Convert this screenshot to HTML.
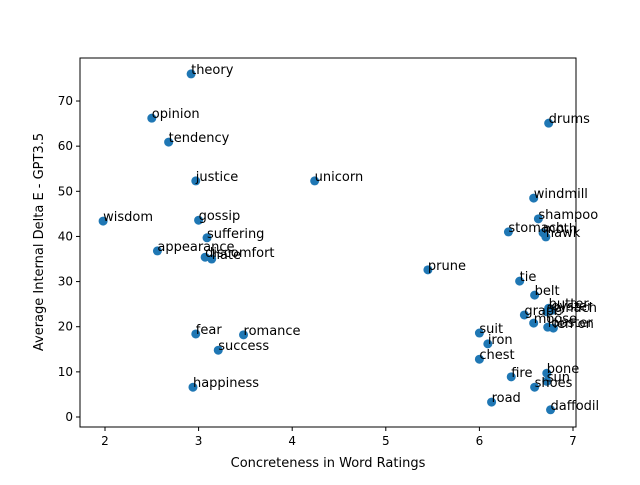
<!DOCTYPE html>
<html><head><meta charset="utf-8"><style>
body{margin:0;background:#fff;}
svg{font-family:"DejaVu Sans","Liberation Sans",sans-serif;}
</style></head><body>
<svg id="chart" width="640" height="480" viewBox="0 0 640 480" xmlns="http://www.w3.org/2000/svg">
<rect width="640" height="480" fill="#fff"/>
<g id="marks"></g>
<g id="labels"></g>
<rect x="80" y="58" width="496" height="369" fill="none" stroke="#000" stroke-width="1"/>
<g id="xticks"></g><g id="yticks"></g>
<text x="328" y="467" font-size="13" text-anchor="middle">Concreteness in Word Ratings</text>
<text transform="translate(43,242) rotate(-90)" font-size="13" text-anchor="middle">Average Internal Delta E - GPT3.5</text>
</svg>
<script>
const words = ["theory","opinion","tendency","justice","unicorn","wisdom","gossip","suffering","appearance","discomfort","hate","prune","fear","romance","success","happiness","drums","windmill","shampoo","stomach","moth","hawk","tie","belt","butter","oyster","spinach","grape","moose","lobster","lemon","suit","iron","chest","bone","sun","fire","shoes","road","daffodil"];
const concreteness = [2.92,2.50,2.68,2.97,4.24,1.98,3.00,3.09,2.56,3.07,3.14,5.45,2.97,3.48,3.21,2.94,6.74,6.58,6.63,6.31,6.68,6.71,6.43,6.59,6.74,6.77,6.72,6.48,6.58,6.73,6.79,6.00,6.09,6.00,6.72,6.72,6.34,6.59,6.13,6.76];
const deltaE = [76.0,66.2,60.9,52.3,52.3,43.4,43.6,39.7,36.8,35.4,35.0,32.6,18.4,18.2,14.8,6.6,65.1,48.5,43.9,41.0,40.8,39.9,30.1,27.0,24.1,23.6,23.3,22.6,20.8,19.9,19.7,18.6,16.2,12.8,9.7,7.9,8.9,6.6,3.3,1.6];
const xTicks = [2,3,4,5,6,7];
const yTicks = [0,10,20,30,40,50,60,70];
const X0=80,X1=576,Y0=427,Y1=58,xMin=1.733,xMax=7.032,yMin=-2.215,yMax=79.53;
const xs=v=>X0+(v-xMin)/(xMax-xMin)*(X1-X0);
const ys=v=>Y0-(v-yMin)/(yMax-yMin)*(Y0-Y1);
const NS="http://www.w3.org/2000/svg";
const marks=document.getElementById('marks'),labels=document.getElementById('labels');
words.forEach((w,i)=>{
  const c=document.createElementNS(NS,'circle');
  c.setAttribute('cx',xs(concreteness[i]));c.setAttribute('cy',ys(deltaE[i]));c.setAttribute('r',4.5);c.setAttribute('fill','#1f77b4');
  
  
  marks.appendChild(c);
  const t=document.createElementNS(NS,'text');
  t.setAttribute('x',xs(concreteness[i]));t.setAttribute('y',ys(deltaE[i]));t.setAttribute('font-size','13');t.textContent=w;
  
  
  labels.appendChild(t);
});
const xt=document.getElementById('xticks'),yt=document.getElementById('yticks');
xTicks.forEach(v=>{
  const l=document.createElementNS(NS,'line');
  l.setAttribute('x1',xs(v));l.setAttribute('x2',xs(v));l.setAttribute('y1',Y0);l.setAttribute('y2',Y0+4);l.setAttribute('stroke','#000');
  
  
  xt.appendChild(l);
  const t=document.createElementNS(NS,'text');
  t.setAttribute('x',xs(v));t.setAttribute('y',Y0+18);t.setAttribute('font-size','12');t.setAttribute('text-anchor','middle');t.textContent=v;
  
  
  xt.appendChild(t);
});
yTicks.forEach(v=>{
  const l=document.createElementNS(NS,'line');
  l.setAttribute('x1',X0-4);l.setAttribute('x2',X0);l.setAttribute('y1',ys(v));l.setAttribute('y2',ys(v));l.setAttribute('stroke','#000');
  
  
  yt.appendChild(l);
  const t=document.createElementNS(NS,'text');
  t.setAttribute('x',X0-7);t.setAttribute('y',ys(v)+4);t.setAttribute('font-size','12');t.setAttribute('text-anchor','end');t.textContent=v;
  
  
  yt.appendChild(t);
});
</script>
</body></html>
